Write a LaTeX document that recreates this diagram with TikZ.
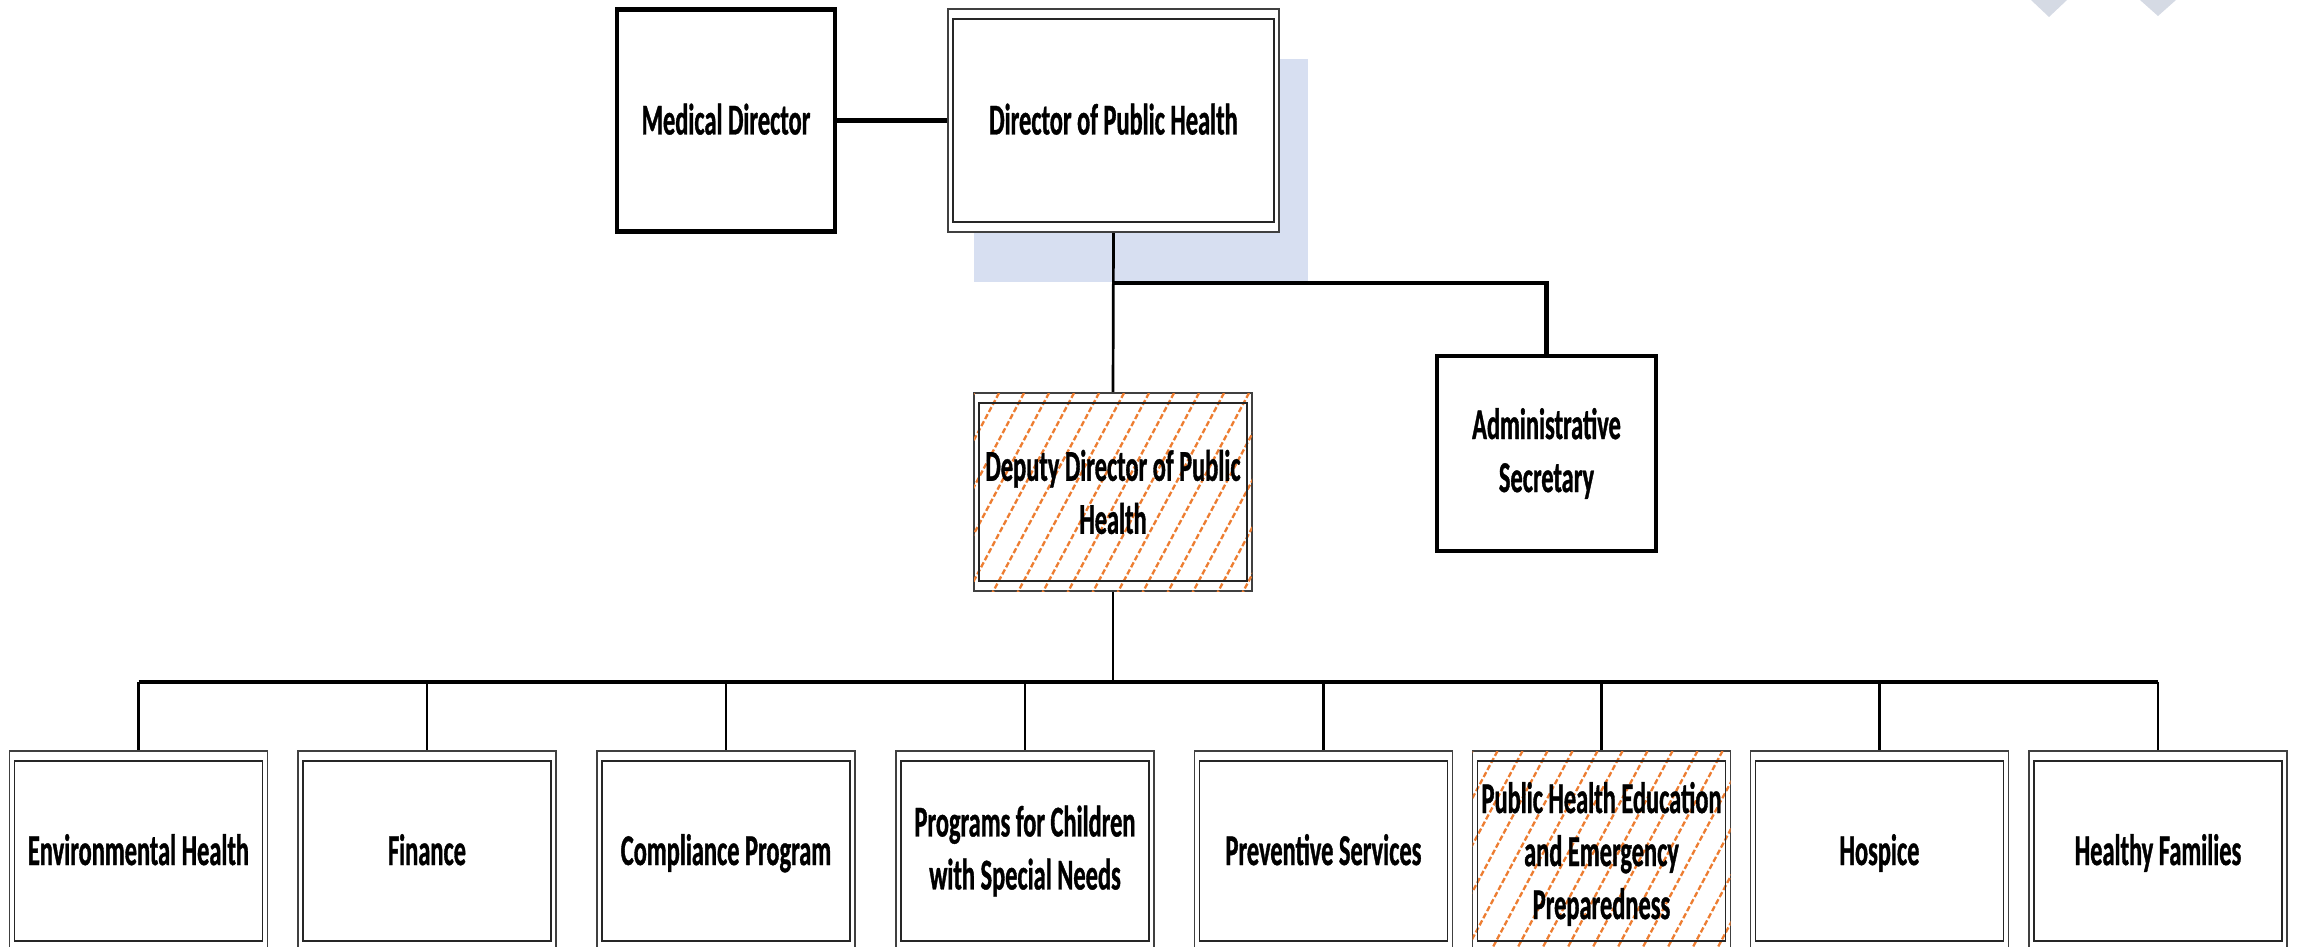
\documentclass[tikz,border=0pt]{standalone}
\usepackage{fontspec}
\newfontfamily\cf[FakeStretch=0.555,FakeBold=0.8]{Carlito}
\usetikzlibrary{calc}
\definecolor{hatchor}{HTML}{ED7D31}
\definecolor{shadowblue}{HTML}{D7DFF1}
\definecolor{chev}{HTML}{D5DAE4}
\tikzset{
  lblm/.style={font=\cf\bfseries\fontsize{44}{53}\selectfont, align=center, inner sep=0pt, outer sep=0pt, text=black},
  lbl/.style={lblm, text height=28pt, text depth=0pt},
  solidbox/.style={draw=black, line width=4.5pt, fill=white, inner sep=0pt, outer sep=0pt},
  dblbox/.style={draw=black!75, line width=1.2pt, fill=white, inner sep=0pt, outer sep=0pt},
  botbox/.style={dblbox, minimum width=258pt, minimum height=200pt},
  innerframe/.style={draw=black!85, line width=1.5pt},
  conn/.style={line width=4.5pt, black},
  thinconn/.style={line width=2.7pt, black},
  hatchline/.style={draw=hatchor, line width=2.3pt, dash pattern=on 5.5pt off 2.5pt},
}
\newcommand\innerfr[1]{\draw[innerframe] ([xshift=5pt,yshift=-10pt]#1.north west) rectangle ([xshift=-5pt,yshift=10pt]#1.south east);}
\newcommand\hatchfill[1]{\begin{scope}
  \clip (#1.north west) rectangle (#1.south east);
  \foreach \i in {-1,...,17}{\draw[hatchline] ([xshift=\i*25pt]#1.north west) -- ++(-120,225);}
  \end{scope}}
\begin{document}
\begin{tikzpicture}[x=1pt,y=-1pt]
\useasboundingbox (0,0) rectangle (2300,947);
\clip (0,0) rectangle (2300,947);
% decorations
\fill[chev] (2031,0) -- (2067,0) -- (2049,17) -- cycle;
\fill[chev] (2140,0) -- (2176,0) -- (2158,16) -- cycle;
\fill[shadowblue] (974,59) rectangle (1308,282);
% box shapes
\node[solidbox, minimum width=218pt, minimum height=222pt] (med) at (726,120.5) {};
\node[dblbox, minimum width=331pt, minimum height=223pt] (dir) at (1113.5,120.5) {};
\node[solidbox, minimum width=219pt, minimum height=195pt] (adm) at (1546.5,453.5) {};
\node[dblbox, minimum width=278pt, minimum height=198pt] (dep) at (1113,492) {};
\node[botbox] (b1) at (138.5,851) {};
\node[botbox] (b2) at (427,851) {};
\node[botbox] (b3) at (726,851) {};
\node[botbox] (b4) at (1025,851) {};
\node[botbox] (b5) at (1323.5,851) {};
\node[botbox] (b6) at (1601.5,851) {};
\node[botbox] (b7) at (1879.5,851) {};
\node[botbox] (b8) at (2158,851) {};
% connectors
\coordinate (br) at (1113,283);
\coordinate (busL) at (138.5,682);
\coordinate (busR) at (2158,682);
\coordinate (busM) at (1113,682);
\draw[conn] (med.east) -- (dir.west);
\draw[thinconn] (dir.south) -- (dep.north);
\draw[conn] (br) -| (adm.north);
\draw[thinconn] (dep.south) -- (busM);
\draw[conn] (busL) -- (busR);
\foreach \b in {b1,b2,b3,b4,b5,b6,b7,b8}{\draw[thinconn] (\b.north |- busL) -- (\b.north);}
% redraw boxes over connector ends
\node[solidbox, minimum width=218pt, minimum height=222pt] at (med) {};
\node[dblbox, minimum width=331pt, minimum height=223pt] at (dir) {};
\node[solidbox, minimum width=219pt, minimum height=195pt] at (adm) {};
\node[dblbox, minimum width=278pt, minimum height=198pt] at (dep) {};
\foreach \b in {b1,b2,b3,b4,b5,b6,b7,b8}{\node[botbox] at (\b) {};}
% hatches
\hatchfill{dep}
\hatchfill{b6}
% inner frames
\innerfr{dir}
\innerfr{dep}
\foreach \b in {b1,b2,b3,b4,b5,b6,b7,b8}{\innerfr{\b}}
% labels
\node[lbl] (medt) at (med) {Medical Director};
\node[lbl] (dirt) at (dir) {Director of Public Health};
\node[lblm] (admt) at (adm) {Administrative\\Secretary};
\node[lblm] (dept) at (dep) {Deputy Director of Public\\Health};
\node[lbl] (b1t) at (b1) {Environmental Health};
\node[lbl] (b2t) at (b2) {Finance};
\node[lbl] (b3t) at (b3) {Compliance Program};
\node[lblm] (b4t) at (b4) {Programs for Children\\with Special Needs};
\node[lbl] (b5t) at (b5) {Preventive Services};
\node[lblm] (b6t) at ([yshift=-3pt]b6) {Public Health Education\\and Emergency\\Preparedness};
\node[lbl] (b7t) at (b7) {Hospice};
\node[lbl] (b8t) at (b8) {Healthy Families};
\end{tikzpicture}
\end{document}
